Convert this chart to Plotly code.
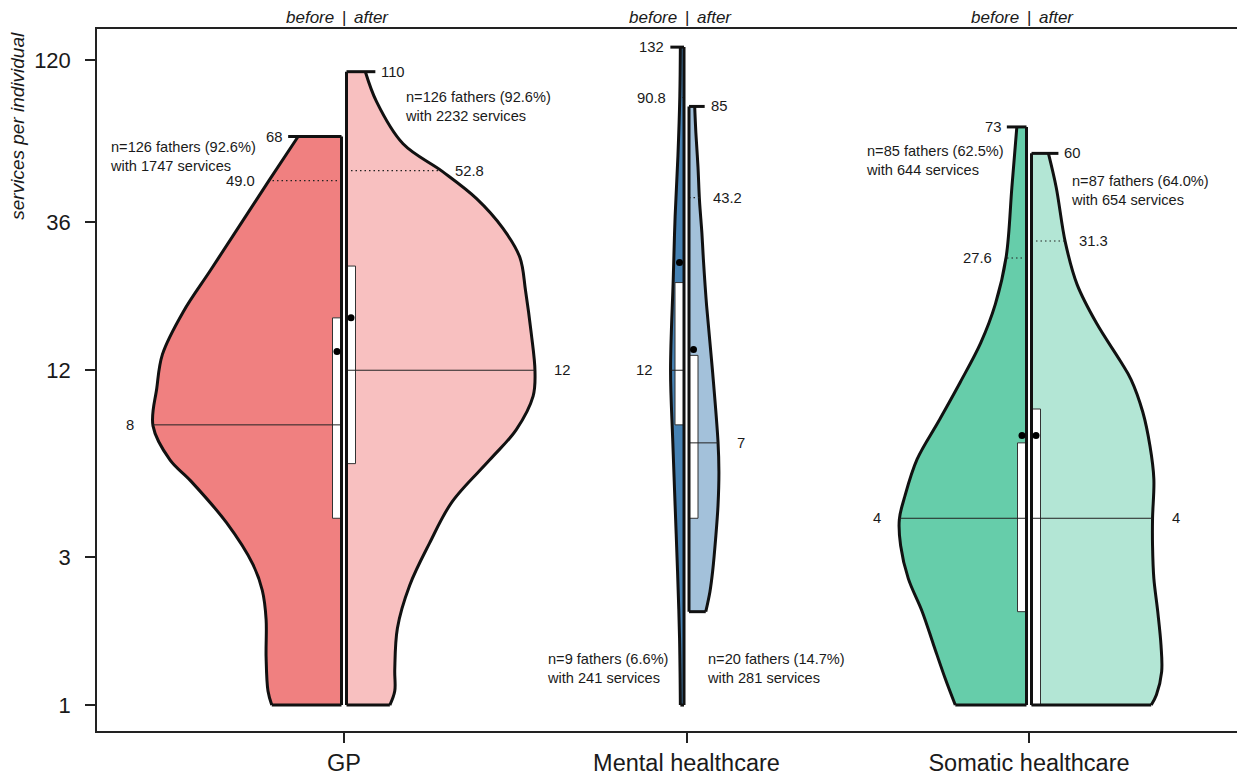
import numpy as np
import plotly.graph_objects as go

# ---------------- data ----------------
categories = ["GP", "Mental healthcare", "Somatic healthcare"]
n_before = [126, 9, 85]
n_after = [126, 20, 87]
pct_before = [92.6, 6.6, 62.5]
pct_after = [92.6, 14.7, 64.0]
services_before = [1747, 241, 644]
services_after = [2232, 281, 654]
max_before = [68, 132, 73]
max_after = [110, 85, 60]
p90_before = [49.0, 90.8, 27.6]
p90_after = [52.8, 43.2, 31.3]
median_before = [8, 12, 4]
median_after = [12, 7, 4]
q1_before = [4, 8, 2]
q3_before = [17.7, 23, 7]
q1_after = [6, 4, 1]
q3_after = [26, 13.4, 9]
mean_before = [13.8, 26.7, 7.4]
mean_after = [17.7, 14.0, 7.4]
y_ticks = [1, 3, 12, 36, 120]

# density profiles (relative width of each half violin, by services per individual)
gp_before_values = [1.0, 1.11, 1.43, 1.89, 2.34, 2.84, 3.87, 5.28, 6.17, 7.94, 10.5, 13.5, 18.5, 25.2, 34.4, 49.0, 68]
gp_before_density = [0.37, 0.39, 0.40, 0.40, 0.42, 0.47, 0.61, 0.80, 0.91, 1.0, 0.98, 0.95, 0.84, 0.695, 0.55, 0.385, 0.23]
gp_after_values = [1.0, 1.11, 1.30, 1.77, 2.43, 3.32, 4.52, 6.17, 7.71, 9.9, 11.9, 15.8, 21.6, 27.7, 34.4, 42.9, 52.4, 64.4, 87.9, 110]
gp_after_density = [0.23, 0.256, 0.256, 0.27, 0.335, 0.44, 0.56, 0.76, 0.90, 0.99, 1.0, 0.98, 0.95, 0.92, 0.83, 0.69, 0.51, 0.30, 0.16, 0.10]
mh_before_values = [1.0, 1.64, 2.7, 4.4, 7.2, 12, 23.5, 37.5, 59, 92, 132]
mh_before_density = [0.27, 0.33, 0.48, 0.66, 0.84, 1.0, 0.80, 0.66, 0.45, 0.31, 0.27]
mh_after_values = [2.0, 2.32, 2.7, 3.44, 4.4, 5.65, 7.05, 11.8, 19.3, 27.4, 33.3, 42.4, 54.3, 69.8, 85]
mh_after_density = [0.56, 0.70, 0.79, 0.89, 0.97, 1.0, 0.97, 0.79, 0.59, 0.48, 0.43, 0.35, 0.30, 0.23, 0.19]
sh_before_values = [1.0, 1.22, 1.56, 2.0, 2.56, 3.27, 3.97, 4.66, 6.2, 8.23, 11.0, 14.7, 19.6, 27.8, 46.6, 73]
sh_before_density = [0.56, 0.64, 0.73, 0.82, 0.93, 0.99, 1.0, 0.96, 0.86, 0.69, 0.52, 0.36, 0.245, 0.16, 0.115, 0.076]
sh_after_values = [1.0, 1.08, 1.28, 1.56, 2.0, 2.56, 3.27, 4.0, 5.36, 6.85, 8.8, 11.2, 12.8, 17.0, 22.7, 31.0, 46.6, 60]
sh_after_density = [0.92, 0.96, 1.0, 0.995, 0.97, 0.94, 0.93, 0.93, 0.94, 0.91, 0.855, 0.765, 0.685, 0.50, 0.35, 0.26, 0.19, 0.13]

colors_before = ["#F08080", "#4682B4", "#66CDAA"]
colors_after = ["#F8C0C0", "#A3C1DA", "#B3E6D5"]

values_before = [gp_before_values, mh_before_values, sh_before_values]
density_before = [gp_before_density, mh_before_density, sh_before_density]
values_after = [gp_after_values, mh_after_values, sh_after_values]
density_after = [gp_after_density, mh_after_density, sh_after_density]

# ---------------- styling constants ----------------
FONT = "Liberation Sans, Arial, Helvetica, sans-serif"
INK = "#111111"
TXT = "#1a1a1a"
PX = 1 / 342.5            # one pixel in x data units
GAP = 2.5 * PX
W_MAX = 188.5 * PX
BOX_W = 9 * PX
TICK_EXT = 10 * PX
centers = [1, 2, 3]
n_ref = max(n_before + n_after)
X_RANGE = [1 - 247 * PX, 3 + 208 * PX]
Y_RANGE = [np.log10(0.825), np.log10(151)]
VAL_SIZE = 14.8
NOTE_SIZE = 14.6

# note positions (x in data units, y in services)
note_before_pos = [(1 - 236 * PX, 58.5), (2 - 141.5 * PX, 1.31), (3 - 165 * PX, 56.8)]
note_after_pos = [(1 + 59 * PX, 84.7), (2 + 18.5 * PX, 1.31), (3 + 40 * PX, 45.7)]

fig = go.Figure()
annotations = []


def line(x, y, color=INK, width=3, dash="solid"):
    fig.add_trace(go.Scatter(x=x, y=y, mode="lines", hoverinfo="skip",
                             line=dict(color=color, width=width, dash=dash)))


def add_half(c, side, vals, dens, n, color, vmax, p90, med, q1, q3, mean):
    vals = np.asarray(vals, float)
    dens = np.asarray(dens, float)
    half = W_MAX * n / n_ref
    inner = c + side * GAP
    edge_x = inner + side * dens * half

    def edge_at(v):
        return inner + side * half * np.interp(np.log10(v), np.log10(vals), dens)

    # fill between the centre line and the density outline
    fig.add_trace(go.Scatter(x=[inner, inner], y=[vals[0], vals[-1]], mode="lines",
                             line=dict(width=0, color=color), hoverinfo="skip"))
    fig.add_trace(go.Scatter(x=edge_x, y=vals, mode="lines", fill="tonextx", fillcolor=color,
                             line=dict(color=INK, width=3, shape="spline", smoothing=1),
                             hoverinfo="skip"))
    # dotted high quantile line
    line([inner, edge_at(p90)], [p90, p90], color="#222222", width=1.1, dash="1.5px,3px")
    # box
    bx0, bx1 = inner, inner + side * BOX_W
    fig.add_trace(go.Scatter(x=[bx0, bx1, bx1, bx0, bx0], y=[q1, q1, q3, q3, q1], mode="lines",
                             fill="toself", fillcolor="white", hoverinfo="skip",
                             line=dict(color="#333333", width=1)))
    # median line across the half violin
    line([inner, edge_at(med)], [med, med], color="#222222", width=1)
    # outline: bottom, top (with tick extension), centre
    line([edge_x[0], inner], [vals[0], vals[0]])
    line([edge_x[-1] + side * TICK_EXT, inner], [vals[-1], vals[-1]])
    line([inner, inner], [vals[0], vals[-1]])
    # mean point
    fig.add_trace(go.Scatter(x=[inner + side * BOX_W / 2], y=[mean], mode="markers", hoverinfo="skip",
                             marker=dict(color="black", size=7)))

    anchor = "right" if side < 0 else "left"
    annotations.append(dict(x=edge_x[-1] + side * (TICK_EXT + 4 * PX), y=np.log10(vmax),
                            text=f"{vmax:g}", xanchor=anchor, yanchor="middle", showarrow=False,
                            font=dict(size=VAL_SIZE, color=TXT, family=FONT)))
    annotations.append(dict(x=edge_at(p90) + side * 12 * PX, y=np.log10(p90),
                            text=f"{p90:.1f}", xanchor=anchor, yanchor="middle", showarrow=False,
                            font=dict(size=VAL_SIZE, color=TXT, family=FONT)))
    annotations.append(dict(x=edge_at(med) + side * 17 * PX, y=np.log10(med),
                            text=f"{med:g}", xanchor=anchor, yanchor="middle", showarrow=False,
                            font=dict(size=VAL_SIZE, color=TXT, family=FONT)))


for i, c in enumerate(centers):
    add_half(c, -1, values_before[i], density_before[i], n_before[i], colors_before[i],
             max_before[i], p90_before[i], median_before[i], q1_before[i], q3_before[i], mean_before[i])
    add_half(c, +1, values_after[i], density_after[i], n_after[i], colors_after[i],
             max_after[i], p90_after[i], median_after[i], q1_after[i], q3_after[i], mean_after[i])

    for pos, n, pct, s in [(note_before_pos[i], n_before[i], pct_before[i], services_before[i]),
                           (note_after_pos[i], n_after[i], pct_after[i], services_after[i])]:
        annotations.append(dict(x=pos[0], y=np.log10(pos[1]), xanchor="left", yanchor="middle",
                                align="left", showarrow=False,
                                text=f"n={n} fathers ({pct:.1f}%)<br>with {s} services",
                                font=dict(size=NOTE_SIZE, color=TXT, family=FONT)))

    # header "before | after"
    for txt, anc, shift in [("<i>before</i>", "right", -8), ("|", "center", 0), ("<i>after</i>", "left", 8)]:
        annotations.append(dict(x=c, y=1, xref="x", yref="paper", yanchor="bottom", yshift=0,
                                xanchor=anc, xshift=shift, text=txt, showarrow=False,
                                font=dict(size=17, color=TXT, family=FONT)))

annotations.append(dict(x=-79 / 1140, y=(733 - 126) / 704, xref="paper", yref="paper",
                        text="<i>services per individual</i>", textangle=-90, showarrow=False,
                        xanchor="center", yanchor="middle",
                        font=dict(size=19, color=TXT, family=FONT)))

fig.update_layout(
    width=1237, height=776,
    margin=dict(l=97, r=0, t=29, b=43),
    paper_bgcolor="white", plot_bgcolor="white",
    showlegend=False,
    annotations=annotations,
    font=dict(family=FONT, color=TXT),
    xaxis=dict(range=X_RANGE, tickvals=centers, ticktext=categories, ticks="outside",
               ticklen=10, tickwidth=1.5, tickcolor="#222222", showline=True, linecolor="#222222",
               linewidth=1.5, mirror=True, showgrid=False, zeroline=False,
               tickfont=dict(size=23.5, color=TXT, family=FONT)),
    yaxis=dict(type="log", range=Y_RANGE, tickvals=y_ticks, ticktext=[str(v) for v in y_ticks],
               ticks="outside", ticklen=10, tickwidth=1.5, tickcolor="#222222", showline=True,
               linecolor="#222222", linewidth=1.5, showgrid=False, zeroline=False,
               ticklabelstandoff=10,
               tickfont=dict(size=22, color=TXT, family=FONT)),
)

fig.write_html("out.html", config={"displayModeBar": False}, post_script=(
    "document.body.style.margin='0px';"
    "document.body.style.padding='0px';"
    "document.documentElement.style.overflow='hidden';"))
